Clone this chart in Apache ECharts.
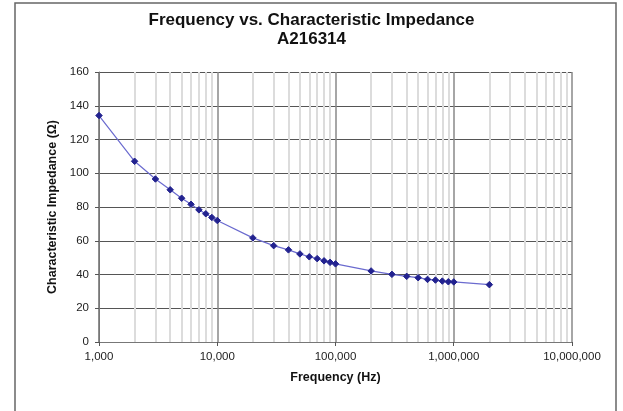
<!DOCTYPE html>
<html><head><meta charset="utf-8">
<script src="https://cdn.jsdelivr.net/npm/echarts@6/dist/echarts.min.js"></script>
<style>html,body{margin:0;padding:0;background:#fff}#c{width:623px;height:411px}</style>
</head><body><div id="c"></div>
<script>
var frequencies = [1000,2000,3000,4000,5000,6000,7000,8000,9000,10000,20000,30000,40000,50000,60000,70000,80000,90000,100000,200000,300000,400000,500000,600000,700000,800000,900000,1000000,2000000];
var impedance = [134.2,107.1,96.6,90.2,85.2,81.6,78.3,76.0,73.8,72.0,61.7,57.1,54.6,52.2,50.5,49.4,48.1,47.2,46.3,42.1,40.1,38.9,38.1,37.1,36.7,36.1,35.7,35.6,34.0];
var minorX = [2000,3000,4000,5000,6000,7000,8000,9000,20000,30000,40000,50000,60000,70000,80000,90000,200000,300000,400000,500000,600000,700000,800000,900000,2000000,3000000,4000000,5000000,6000000,7000000,8000000,9000000];
var yTicks = [0,20,40,60,80,100,120,140,160];

var chart = echarts.init(document.getElementById('c'));
var font = 'Liberation Sans, Arial, sans-serif';
chart.setOption({
  animation:false,
  graphic:[{type:'rect',shape:{x:15,y:3,width:601,height:420},style:{fill:'none',stroke:'#666',lineWidth:1.5}}],
  title:{text:'Frequency vs. Characteristic Impedance\nA216314',left:'center',top:6,
    textStyle:{fontFamily:font,fontSize:17,fontWeight:'bold',color:'#111',lineHeight:19}},
  grid:{left:99,right:51,top:72,bottom:69},
  xAxis:{type:'log',logBase:10,min:1000,max:10000000,
    name:'Frequency (Hz)',nameLocation:'middle',nameGap:29,
    nameTextStyle:{fontFamily:font,fontSize:12.5,fontWeight:'bold',color:'#111'},
    axisLine:{lineStyle:{color:'#777',width:1}},
    axisTick:{show:true,length:4,lineStyle:{color:'#555'}},
    axisLabel:{fontFamily:font,fontSize:11.5,color:'#222',margin:9,
      formatter:function(v){return Math.round(v).toLocaleString('en-US');}},
    splitLine:{show:true,lineStyle:{color:'#888',width:1.5}}},
  yAxis:{type:'value',min:0,max:160,interval:20,
    name:'Characteristic Impedance (Ω)',nameLocation:'middle',nameGap:33,
    nameTextStyle:{fontFamily:font,fontSize:12.5,fontWeight:'bold',color:'#111'},
    axisLine:{show:true,lineStyle:{color:'#777',width:1}},
    axisTick:{show:true,length:4,lineStyle:{color:'#555'}},
    axisLabel:{fontFamily:font,fontSize:11.5,color:'#222',margin:10},
    splitLine:{show:true,lineStyle:{color:'#555',width:1}}},
  series:[{
    type:'line',
    data:frequencies.map(function(f,i){return [f,impedance[i]];}),
    symbol:'diamond',symbolSize:6.5,
    itemStyle:{color:'#22228f',borderColor:'#22228f'},
    lineStyle:{color:'#6b6bcf',width:1.2},
    z:5,
    markLine:{silent:true,symbol:['none','none'],label:{show:false},
      lineStyle:{color:'#dcdcdc',width:2,type:'solid'},z:1,
      data:minorX.map(function(v){return {xAxis:v};})}
  }]
});
</script></body></html>
